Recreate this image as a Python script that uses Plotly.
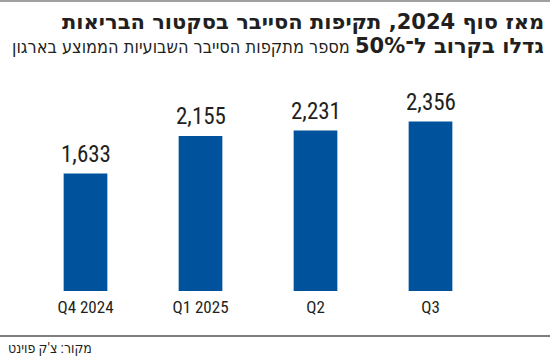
import plotly.graph_objects as go

categories = ["Q4 2024", "Q1 2025", "Q2", "Q3"]
values = [1633, 2155, 2231, 2356]
value_labels = ["1,633", "2,155", "2,231", "2,356"]

title_line1 = "מאז סוף 2024, תקיפות הסייבר בסקטור הבריאות"
title_bold2 = "גדלו בקרוב ל־50%"
title_reg2 = "מספר מתקפות הסייבר השבועיות הממוצע בארגון"
source = "מקור: צ'ק פוינט"

W, H = 550, 357
L, R, T, B = 28, 62, 104, 66
pw, ph = W - L - R, H - T - B

def px(x):
    return (x - L) / pw

def py(y):
    return (H - B - y) / ph

NARROW = "Roboto Condensed, Noto Sans Condensed, DejaVu Sans Condensed"
COND = "DejaVu Sans Condensed"
BOLD = "DejaVu Sans"
BAR = "#00529c"
TXT = "#231f20"

fig = go.Figure(go.Bar(
    x=categories, y=values, marker=dict(color=BAR, line=dict(width=0)),
    width=0.38, hoverinfo="skip",
))

annotations = []
for c, v, t in zip(categories, values, value_labels):
    annotations.append(dict(x=c, y=v, text=t, showarrow=False, yanchor="bottom",
                            yshift=4, font=dict(family=NARROW, size=23, color=TXT)))

annotations.append(dict(xref="paper", yref="paper", x=px(546), y=py(22), xanchor="right",
                        yanchor="middle", align="right", showarrow=False,
                        text="<b>" + title_line1 + "</b>",
                        font=dict(family=BOLD, size=21, color=TXT)))
line2 = ("<span style='font-family:DejaVu Sans;font-weight:bold;font-size:21px'>" + title_bold2
         + "</span> " + title_reg2)
annotations.append(dict(xref="paper", yref="paper", x=px(546), y=py(46), xanchor="right",
                        yanchor="middle", align="right", showarrow=False,
                        text=line2,
                        font=dict(family=COND, size=18, color=TXT)))
annotations.append(dict(xref="paper", yref="paper", x=px(6), y=py(348), xanchor="left",
                        yanchor="middle", showarrow=False, text=source,
                        font=dict(family=NARROW, size=14, color=TXT)))

shapes = [
    dict(type="line", xref="paper", yref="paper", x0=px(0), x1=px(W), y0=py(1), y1=py(1),
         line=dict(color="#a0a0a0", width=2)),
    dict(type="line", xref="paper", yref="paper", x0=px(0), x1=px(W), y0=py(336), y1=py(336),
         line=dict(color="#555555", width=1.5)),
]

fig.update_layout(
    width=W, height=H, margin=dict(l=L, r=R, t=T, b=B),
    paper_bgcolor="white", plot_bgcolor="white",
    showlegend=False,
    xaxis=dict(showgrid=False, showline=False, ticks="", zeroline=False,
               ticklabelstandoff=4,
               tickfont=dict(family=NARROW, size=17, color=TXT)),
    yaxis=dict(range=[0, 2600], visible=False, showgrid=False, zeroline=False),
    annotations=annotations, shapes=shapes,
)

fig.write_html("out.html", config={"displayModeBar": False},
               post_script="document.body.style.margin='0px';")
